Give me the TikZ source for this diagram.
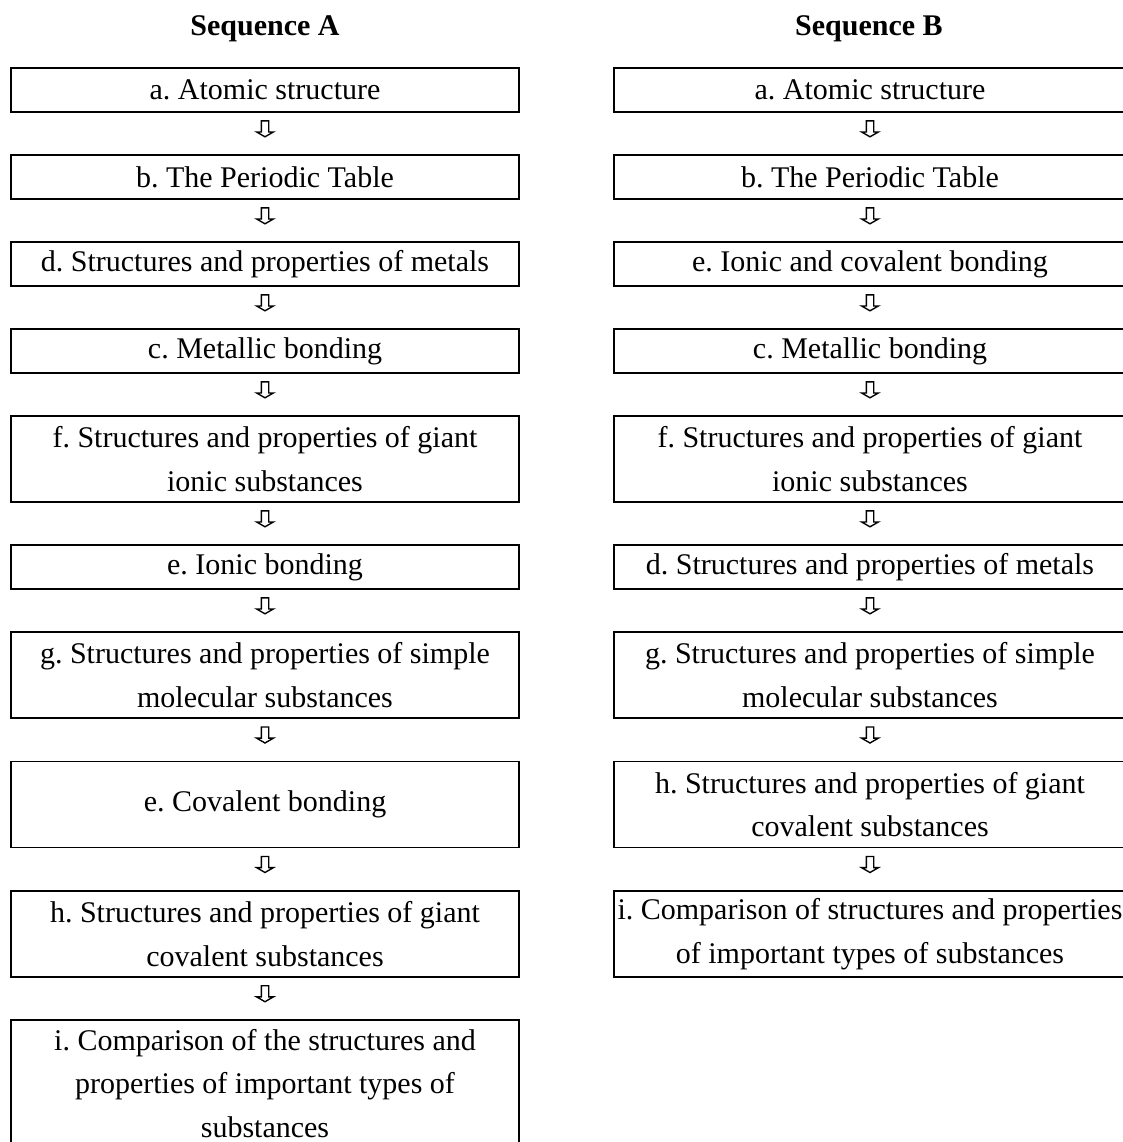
\documentclass[tikz,border=0pt]{standalone}
\usepackage{fontspec}
\setmainfont{Liberation Serif}
\frenchspacing
\usetikzlibrary{shapes.arrows}
\tikzset{
  box/.style={draw, line width=0.75pt, minimum width=203.2pt, minimum height=17.6pt,
    align=center, inner xsep=0pt, inner ysep=2pt, font=\fontsize{12}{17.4}\selectfont},
  tallbox/.style={box, minimum height=34.4pt},
  hugebox/.style={box, minimum height=51pt},
  wide/.style={minimum width=204.6pt},
  downarrow/.style={single arrow, draw, line width=0.55pt, shape border rotate=270,
    inner sep=1.2pt, minimum height=6.4pt, minimum width=6.4pt,
    single arrow head extend=1.9pt, single arrow tip angle=120},
  heading/.style={font=\fontsize{12}{14}\selectfont\bfseries}
}
\begin{document}
\begin{tikzpicture}[x=0.4pt, y=-0.4pt]
            
            \useasboundingbox (0,0) rectangle (1122,1142);
            
            \node[heading] (titleA) at (265,29) {Sequence A};
            \node[heading] (titleB) at (869,29) {Sequence B};
            
            % Sequence A
            \node[box] (A1) at (265,90) {a. Atomic structure};
            \node[box] (A2) at (265,177) {b. The Periodic Table};
            \node[box] (A3) at (265,264) {d. Structures and properties of metals};
            \node[box] (A4) at (265,351) {c. Metallic bonding};
            \node[tallbox] (A5) at (265,459) {f. Structures and properties of giant\\ionic substances};
            \node[box] (A6) at (265,567) {e. Ionic bonding};
            \node[tallbox] (A7) at (265,675) {g. Structures and properties of simple\\molecular substances};
            \node[tallbox] (A8) at (265,804.5) {e. Covalent bonding};
            \node[tallbox] (A9) at (265,934) {h. Structures and properties of giant\\covalent substances};
            \node[hugebox] (A10) at (265,1083.5) {i. Comparison of the structures and\\properties of important types of\\substances};
            
            % Sequence B
            \node[box, wide] (B1) at (870,90) {a. Atomic structure};
            \node[box, wide] (B2) at (870,177) {b. The Periodic Table};
            \node[box, wide] (B3) at (870,264) {e. Ionic and covalent bonding};
            \node[box, wide] (B4) at (870,351) {c. Metallic bonding};
            \node[tallbox, wide] (B5) at (870,459) {f. Structures and properties of giant\\ionic substances};
            \node[box, wide] (B6) at (870,567) {d. Structures and properties of metals};
            \node[tallbox, wide] (B7) at (870,675) {g. Structures and properties of simple\\molecular substances};
            \node[tallbox, wide] (B8) at (870,804.5) {h. Structures and properties of giant\\covalent substances};
            \node[tallbox, wide] (B9) at (870,934) {i. Comparison of structures and properties\\of important types of substances};
            
            \foreach \u/\v in {A1/A2,A2/A3,A3/A4,A4/A5,A5/A6,A6/A7,A7/A8,A8/A9,A9/A10,
                               B1/B2,B2/B3,B3/B4,B4/B5,B5/B6,B6/B7,B7/B8,B8/B9}
              \path (\u.south) -- node[downarrow, pos=0.36] (arr\u) {} (\v.north);
            
        \end{tikzpicture}
\end{document}
